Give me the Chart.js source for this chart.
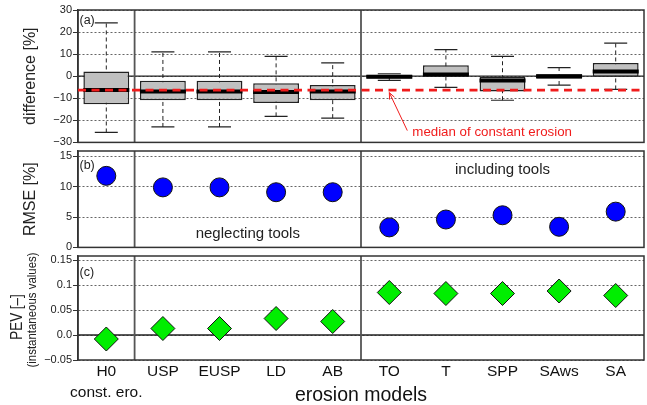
<!DOCTYPE html>
<html><head><meta charset="utf-8">
<script src="https://cdn.jsdelivr.net/npm/chart.js@4/dist/chart.umd.min.js"></script>
<style>
html,body{margin:0;padding:0;background:#fff;}
#wrap{position:relative;width:647px;height:405px;overflow:hidden;background:#fff;}
canvas{position:absolute;left:0;}
</style></head><body>
<div id="wrap">
<canvas id="cA" width="647" height="150" style="top:0px"></canvas>
<canvas id="cB" width="647" height="115" style="top:140px"></canvas>
<canvas id="cC" width="647" height="160" style="top:245px"></canvas>
</div>
<script>
// ---- data ----
const models = ['H0','USP','EUSP','LD','AB','TO','T','SPP','SAws','SA'];
const modelLabels = [['H0','const. ero.'],'USP','EUSP','LD','AB','TO','T','SPP','SAws','SA'];
const diffMax    = [24.2, 11.0, 11.0,  9.0,  6.0,  1.1, 12.0,  9.0,  3.9, 15.0];
const diffQ3     = [ 2.1, -2.1, -2.1, -3.2, -4.0,  0.7,  5.0,  0.0,  0.9,  6.0];
const diffMedian = [-6.3, -6.9, -6.9, -7.2, -6.9, -0.2,  0.8, -1.9,  0.0,  2.1];
const diffQ1     = [-12.7,-10.9,-10.9,-12.2,-10.9, -1.0, -0.1, -6.9, -1.2, -0.3];
const diffMin    = [-25.5,-23.0,-23.0,-18.2,-19.0, -1.9, -5.1,-10.9, -4.0, -6.0];
const constMedian = -6.3;
const rmse = [11.8, 9.9, 9.9, 9.1, 9.1, 3.3, 4.6, 5.3, 3.4, 5.9];
const pev  = [-0.008, 0.013, 0.013, 0.033, 0.027, 0.085, 0.083, 0.083, 0.088, 0.079];
const diffTicks = [-30,-20,-10,0,10,20,30];
const diffTickLabels = ['\u221230','\u221220','\u221210','0','10','20','30'];
const rmseTicks = [0,5,10,15];
const rmseTickLabels = ['0','5','10','15'];
const pevTicks = [-0.05,0,0.05,0.1,0.15];
const pevTickLabels = ['\u22120.05','0.0','0.05','0.1','0.15'];
const groupBreaks = [0.5, 4.5];

// ---- setup ----
const FONT = "'Liberation Sans', Arial, Helvetica, sans-serif";
Chart.defaults.font.family = FONT;
Chart.defaults.color = '#222';
Chart.defaults.animation = false;
Chart.defaults.events = [];
Chart.defaults.plugins.legend.display = false;
Chart.defaults.plugins.tooltip.enabled = false;

function yAxis(min, max, ticks, labels, title, titleX) {
  return {
    min: min, max: max,
    afterFit(s){ s.width = 78; },
    afterBuildTicks(s){ s.ticks = ticks.map(v => ({value: v})); },
    ticks: { callback: (v, i) => labels[i], font: {size: 11}, color: '#222', padding: 1, autoSkip: false },
    grid: { color: '#555', lineWidth: 0.9, tickLength: 5, tickColor: '#333', tickWidth: 1 },
    border: { display: true, color: '#333', width: 1.5, dash: [2, 2] },
    title: { display: !!title, text: title || '', color: '#222', font: {size: 16, lineHeight: 1.2},
             padding: {top: (titleX || 20) - 9.6, bottom: 0} }
  };
}
function xHidden() {
  return { type: 'category', labels: models, offset: true, display: false };
}
function line(ctx, x1, y1, x2, y2) { ctx.beginPath(); ctx.moveTo(x1, y1); ctx.lineTo(x2, y2); ctx.stroke(); }
function vText(ctx, text, cx, cy, size, squeeze) {
  ctx.save();
  ctx.translate(cx, cy);
  ctx.rotate(-Math.PI / 2);
  ctx.scale(squeeze, 1);
  ctx.font = size + 'px ' + FONT;
  ctx.textAlign = 'center'; ctx.textBaseline = 'middle';
  ctx.fillText(text, 0, 0);
  ctx.restore();
}

function decor(opt) {
  return {
    id: 'decor',
    beforeDatasetsDraw(chart) {
      const ctx = chart.ctx, a = chart.chartArea, x = chart.scales.x, y = chart.scales.y;
      ctx.save();
      ctx.setLineDash([]);
      if (opt.zeroLine) {
        ctx.strokeStyle = '#222'; ctx.lineWidth = 1.3;
        const py = y.getPixelForValue(0);
        line(ctx, a.left, py, a.right, py);
      }
      ctx.strokeStyle = '#555'; ctx.lineWidth = 1.8;
      groupBreaks.forEach(b => { const px = x.getPixelForValue(b); line(ctx, px, a.top, px, a.bottom); });
      ctx.strokeStyle = '#333'; ctx.lineWidth = 1.5;
      ctx.strokeRect(a.left, a.top, a.right - a.left, a.bottom - a.top);
      ctx.restore();
    },
    afterDatasetsDraw(chart) {
      const ctx = chart.ctx, a = chart.chartArea, x = chart.scales.x, y = chart.scales.y;
      ctx.save();
      if (opt.median) {
        const py = y.getPixelForValue(constMedian);
        ctx.strokeStyle = '#f01c1c'; ctx.lineWidth = 2.6; ctx.setLineDash([8, 5.5]);
        line(ctx, a.left, py, a.right, py);
        ctx.setLineDash([]);
        // arrow
        const tx = x.getPixelForValue(5), ty = py + 2.5;
        const sx = tx + 18, sy = ty + 38;
        ctx.lineWidth = 1; ctx.strokeStyle = '#f01c1c';
        line(ctx, sx, sy, tx, ty);
        const ang = Math.atan2(ty - sy, tx - sx);
        const L = 7, w = 0.4;
        line(ctx, tx, ty, tx - L * Math.cos(ang - w), ty - L * Math.sin(ang - w));
        line(ctx, tx, ty, tx - L * Math.cos(ang + w), ty - L * Math.sin(ang + w));
        ctx.fillStyle = '#f01c1c';
        ctx.font = '13.3px ' + FONT;
        ctx.textAlign = 'left'; ctx.textBaseline = 'middle';
        ctx.fillText('median of constant erosion', sx + 5, sy + 2);
      }
      if (opt.groupText) {
        ctx.fillStyle = '#222';
        ctx.font = '15px ' + FONT;
        ctx.textAlign = 'center'; ctx.textBaseline = 'middle';
        const b0 = x.getPixelForValue(groupBreaks[0]), b1 = x.getPixelForValue(groupBreaks[1]);
        ctx.fillText('neglecting tools', (b0 + b1) / 2, y.getPixelForValue(2.25));
        ctx.fillText('including tools', (b1 + a.right) / 2, y.getPixelForValue(12.8));
      }
      ctx.fillStyle = '#222';
      ctx.font = '12.5px ' + FONT;
      ctx.textAlign = 'left'; ctx.textBaseline = 'middle';
      ctx.fillText(opt.tag, a.left + 1.5, a.top + opt.tagDy);
      if (opt.pevTitle) {
        const cy = (a.top + a.bottom) / 2;
        vText(ctx, opt.pevTitle, 17.5, cy + 9, 16, 0.84);
        vText(ctx, opt.subTitle, 32.5, cy + 2, 13, 0.88);
      }
      ctx.restore();
    }
  };
}

// ---- panel (a) boxplots ----
const whiskerSets = models.map((m, i) => ({
  type: 'line',
  data: [{x: m, y: diffMin[i]}, {x: m, y: diffMax[i]}],
  borderColor: '#222', borderWidth: 1, borderDash: [4, 3],
  pointRadius: 0, fill: false, order: 5
}));
new Chart(document.getElementById('cA'), {
  type: 'bar',
  data: {
    labels: models,
    datasets: [
      { type: 'bar', data: models.map((m, i) => [diffQ1[i], diffQ3[i]]),
        backgroundColor: '#c0c0c0', borderColor: '#222', borderWidth: 1.5, borderSkipped: false,
        barPercentage: 0.81, categoryPercentage: 1, order: 2 },
      { type: 'line', data: diffMedian, showLine: false, pointStyle: 'line', pointRadius: 23,
        borderColor: '#000', pointBorderColor: '#000', pointBorderWidth: 4, order: 1 },
      { type: 'line', data: diffMax, showLine: false, pointStyle: 'line', pointRadius: 11.5,
        borderColor: '#222', pointBorderColor: '#222', pointBorderWidth: 1.2, order: 3 },
      { type: 'line', data: diffMin, showLine: false, pointStyle: 'line', pointRadius: 11.5,
        borderColor: '#222', pointBorderColor: '#222', pointBorderWidth: 1.2, order: 3 },
      ...whiskerSets
    ]
  },
  options: {
    responsive: false, devicePixelRatio: 1,
    layout: { autoPadding: false, padding: {top: 10, bottom: 7, left: 0, right: 3} },
    scales: { x: xHidden(), y: yAxis(-30, 30, diffTicks, diffTickLabels, 'difference [%]', 31) }
  },
  plugins: [decor({zeroLine: true, median: true, tag: '(a)', tagDy: 11})]
});

// ---- panel (b) RMSE ----
new Chart(document.getElementById('cB'), {
  type: 'line',
  data: {
    labels: models,
    datasets: [{ data: rmse, showLine: false, pointStyle: 'circle', pointRadius: 9.5,
      pointBackgroundColor: '#0000ff', pointBorderColor: '#111', pointBorderWidth: 1 }]
  },
  options: {
    responsive: false, devicePixelRatio: 1,
    layout: { autoPadding: false, padding: {top: 11, bottom: 7, left: 0, right: 3} },
    scales: { x: xHidden(), y: yAxis(0, 15.9, rmseTicks, rmseTickLabels, 'RMSE [%]', 31) }
  },
  plugins: [decor({groupText: true, tag: '(b)', tagDy: 14.5})]
});

// ---- panel (c) PEV ----
new Chart(document.getElementById('cC'), {
  type: 'line',
  data: {
    labels: models,
    datasets: [{ data: pev, showLine: false, pointStyle: 'rectRot', pointRadius: 12,
      pointBackgroundColor: '#00ee00', pointBorderColor: '#111', pointBorderWidth: 1 }]
  },
  options: {
    responsive: false, devicePixelRatio: 1,
    layout: { autoPadding: false, padding: {top: 11, bottom: 0, left: 0, right: 3} },
    scales: {
      x: { type: 'category', labels: models, offset: true,
        afterFit(s){ s.height = 45; },
        grid: { display: false, drawTicks: false }, border: { display: false },
        ticks: { callback: (v, i) => modelLabels[i], font: {size: 15.5, lineHeight: 1.3},
                 color: '#111', padding: 2, maxRotation: 0, autoSkip: false },
        title: { display: true, text: 'erosion models', color: '#111',
                 font: {size: 19.5, lineHeight: 1.0}, padding: {top: 0, bottom: 0} } },
      y: yAxis(-0.05, 0.158, pevTicks, pevTickLabels, null, null)
    }
  },
  plugins: [decor({zeroLine: true, tag: '(c)', tagDy: 17, pevTitle: 'PEV [\u2013]', subTitle: '(instantaneous values)'})]
});
</script>
</body></html>
